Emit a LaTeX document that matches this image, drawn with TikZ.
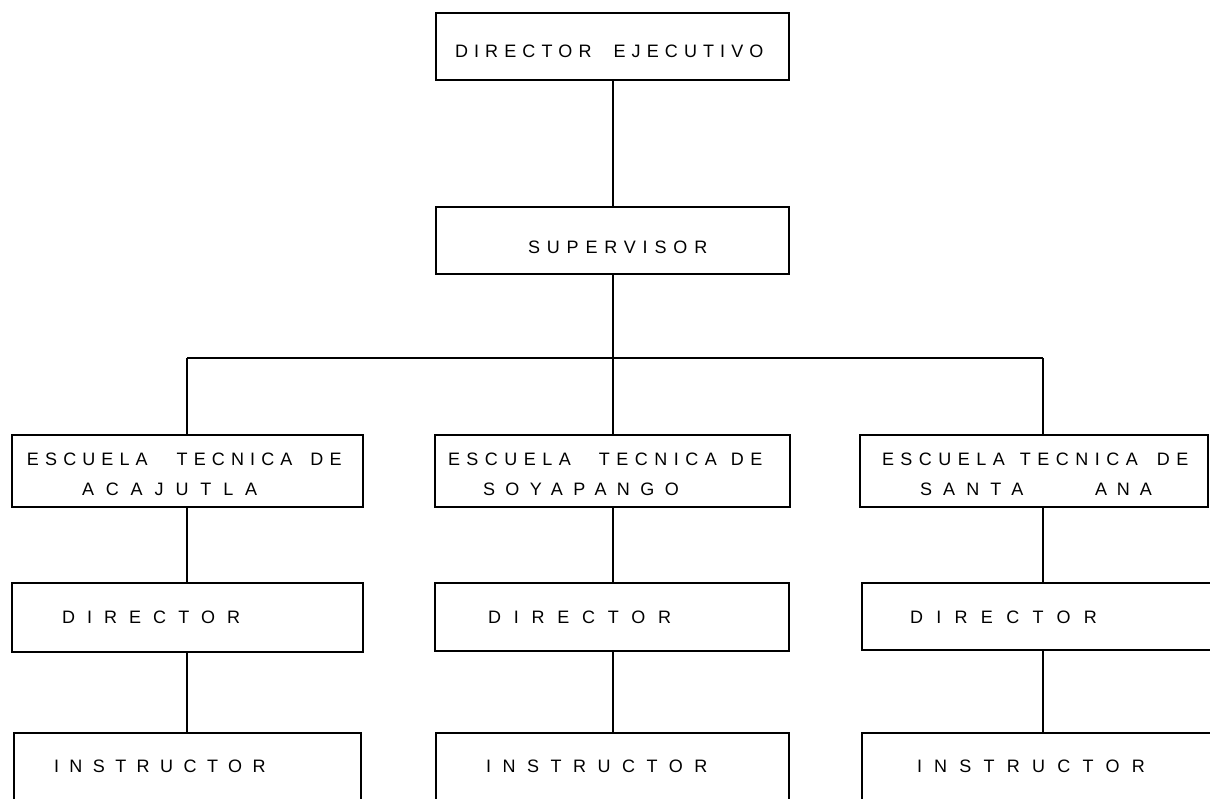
\documentclass[tikz,border=0pt]{standalone}
\usepackage{fontspec}
\setmainfont{Liberation Sans}
\begin{document}
\begin{tikzpicture}[x=1pt,y=-1pt,
  box/.style={draw, line width=1.8pt, rectangle, inner sep=0pt, outer sep=0pt, anchor=north west},
  link/.style={line width=1.8pt},
  lbl/.style={anchor=base west, inner sep=0pt, outer sep=0pt,
    font={\fontsize{18}{21}\selectfont\addfontfeatures{LetterSpace=#1}}},
  lbl/.default=36]
\useasboundingbox (0,0) rectangle (1210,798);
\clip (0,0) rectangle (1210,798);

% boxes: minimum width / height in pixels of the sheet
\node[box, minimum width=353, minimum height=67] (exec) at (436,13) {};
\node[box, minimum width=353, minimum height=67] (sup)  at (436,207) {};

\node[box, minimum width=351, minimum height=72] (school1) at (12,435) {};
\node[box, minimum width=355, minimum height=72] (school2) at (435,435) {};
\node[box, minimum width=348, minimum height=72] (school3) at (860,435) {};

\node[box, minimum width=351, minimum height=69] (dir1) at (12,583) {};
\node[box, minimum width=354, minimum height=68] (dir2) at (435,583) {};
\node[box, minimum width=370, minimum height=67] (dir3) at (862,583) {};

\node[box, minimum width=347, minimum height=90] (ins1) at (14,733) {};
\node[box, minimum width=353, minimum height=90] (ins2) at (436,733) {};
\node[box, minimum width=370, minimum height=90] (ins3) at (862,733) {};

% labels
\node[lbl=34] (tExec) at (455,57) {DIRECTOR\hspace{22pt}EJECUTIVO};
\node[lbl=38] (tSup)  at (528,253) {SUPERVISOR};

\node[lbl=34] (tS1a) at (27,465)  {ESCUELA\hspace{29pt}TECNICA\hspace{18pt}DE};
\node[lbl=66] (tS1b) at (82,495)  {ACAJUTLA};
\node[lbl=36] (tS2a) at (448,465) {ESCUELA\hspace{28pt}TECNICA\hspace{14pt}DE};
\node[lbl=58] (tS2b) at (483,495) {SOYAPANGO};
\node[lbl=36] (tS3a) at (882,465) {ESCUELA\hspace{15pt}TECNICA\hspace{19pt}DE};
\node[lbl=62] (tS3b) at (920,495) {SANTA};
\node[lbl=55] (tS3c) at (1095,495) {ANA};

\node[lbl=67] (tD1) at (62,623)  {DIRECTOR};
\node[lbl=71] (tD2) at (488,623) {DIRECTOR};
\node[lbl=74] (tD3) at (910,623) {DIRECTOR};

\node[lbl=58] (tI1) at (54,772)  {INSTRUCTOR};
\node[lbl=64] (tI2) at (486,772) {INSTRUCTOR};
\node[lbl=68] (tI3) at (917,772) {INSTRUCTOR};

% connector columns and the horizontal bus
\coordinate (c1) at (187,358);
\coordinate (c2) at (613,358);
\coordinate (c3) at (1043,358);

\draw[link] (exec.south -| c2) -- (sup.north -| c2);
\draw[link] (sup.south -| c2) -- (c2);
\draw[link] (c1) -- (c3);
\draw[link] (c1) -- (c1 |- school1.north);
\draw[link] (c2) -- (c2 |- school2.north);
\draw[link] (c3) -- (c3 |- school3.north);

\draw[link] (c1 |- school1.south) -- (c1 |- dir1.north);
\draw[link] (c2 |- school2.south) -- (c2 |- dir2.north);
\draw[link] (c3 |- school3.south) -- (c3 |- dir3.north);

\draw[link] (c1 |- dir1.south) -- (c1 |- ins1.north);
\draw[link] (c2 |- dir2.south) -- (c2 |- ins2.north);
\draw[link] (c3 |- dir3.south) -- (c3 |- ins3.north);
\end{tikzpicture}
\end{document}
